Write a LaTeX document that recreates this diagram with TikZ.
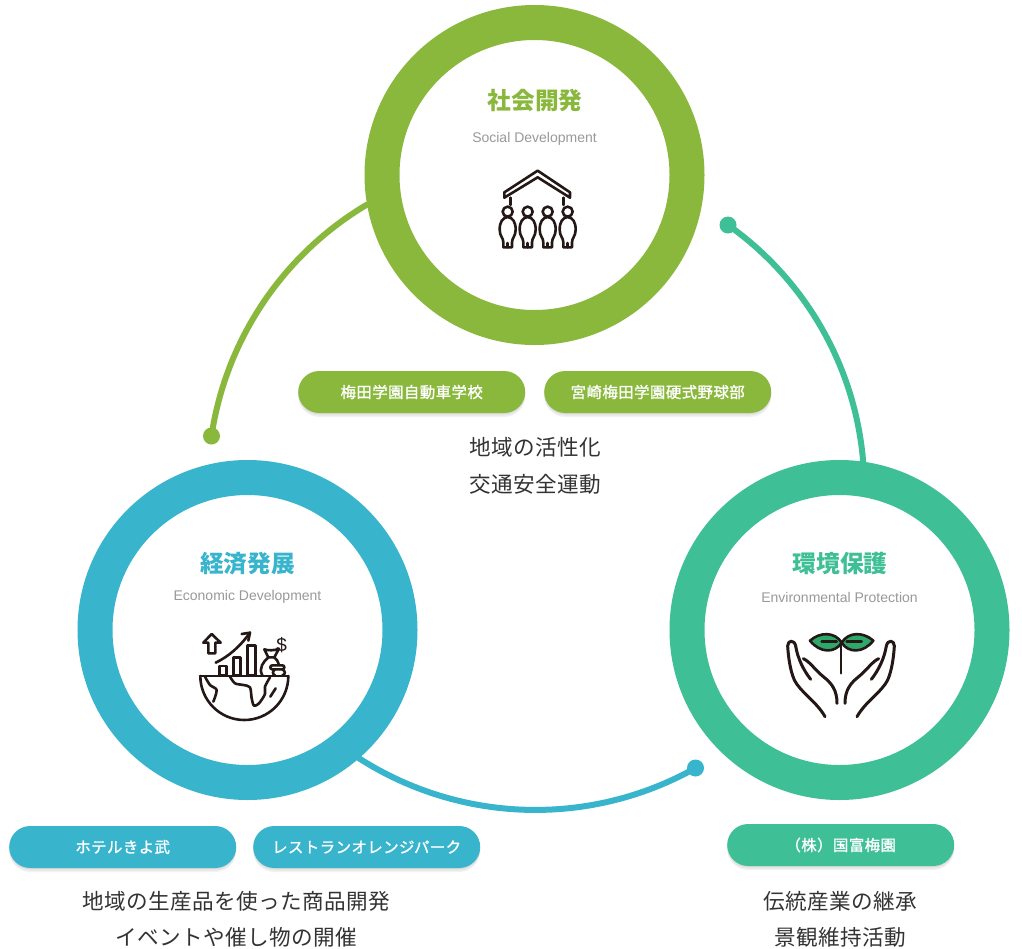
\documentclass[tikz,border=0pt]{standalone}
\usepackage{fontspec}
\setmainfont{Noto Sans CJK JP}
\newfontfamily\bodyfont[LetterSpace=2]{Noto Sans CJK JP}
\newfontfamily\pillfont[LetterSpace=3,FakeBold=1.3]{Noto Sans CJK JP}
\newfontfamily\subfont{Liberation Sans}
\usetikzlibrary{shapes.misc,shadows}
\definecolor{mygreen}{RGB}{138,184,61}
\definecolor{myblue}{RGB}{56,180,204}
\definecolor{myteal}{RGB}{62,191,149}
\definecolor{myleaf}{RGB}{46,168,106}
\definecolor{myink}{RGB}{35,24,21}
\definecolor{mytext}{RGB}{51,51,51}
\definecolor{mysub}{RGB}{153,153,153}
\newcommand{\widthpill}{227pt}
\tikzset{
    ring/.style={draw=#1, circle, line width=35pt, fill=white, minimum size=305pt, inner sep=0pt},
    softshadow/.style={general shadow={shadow xshift=0pt, shadow yshift=#1, opacity=.05, fill=black}},
    pill/.style={anchor=west, rounded rectangle, fill=#1, text=white, minimum width=\widthpill, minimum height=42pt, inner sep=0pt,
        font=\pillfont\fontsize{15.4}{15.4}\selectfont,
        softshadow=-1pt, softshadow=-2.5pt, softshadow=-4pt},
    dot/.style={circle, fill=#1, minimum size=17pt, inner sep=0pt},
    link/.style={draw=#1, line width=6pt, line cap=round},
    heading/.style={text=#1, font=\bfseries\fontsize{23.7}{24}\selectfont, inner sep=0pt},
    subhead/.style={text=mysub, font=\subfont\fontsize{14}{14}\selectfont, inner sep=0pt},
    body/.style={text=mytext, align=center, inner sep=0pt, font=\bodyfont\fontsize{21.6}{36.5}\selectfont},
    icon/.style={draw=myink, line width=2.6pt, line cap=round, line join=round},
}
\newcommand{\iconperson}[1]{
    \begin{scope}[shift={(#1,155)}]
        \draw[icon] (0,0) circle (15);
        \draw[icon] (0,16) .. controls (-16,18) and (-24,32) .. (-24,54)
            .. controls (-24,74) and (-13,78) .. (-13,92) -- (-13,107) -- (13,107) -- (13,92)
            .. controls (13,78) and (24,74) .. (24,54)
            .. controls (24,32) and (16,18) .. (0,16);
        \draw[icon] (0,94) -- (0,107);
    \end{scope}
}
\newcommand{\iconhand}{
    \draw[icon, line width=3pt] (150,290) .. controls (125,245) and (75,215) .. (58,180)
        .. controls (45,150) and (40,110) .. (38,78)
        .. controls (38,60) and (58,58) .. (62,78)
        .. controls (68,115) and (85,150) .. (107,178);
    \draw[icon, line width=3pt] (85,116) .. controls (105,125) and (120,150) .. (145,170)
        .. controls (170,190) and (186,210) .. (186,250);
}
\begin{document}
\begin{tikzpicture}[x=1pt, y=-1pt]
    \useasboundingbox (0,0) rectangle (1022,948);

    \node[ring=mygreen] (socialring) at (534.5,175) {};
    \node[ring=myblue] (economyring) at (247.5,630) {};
    \node[ring=myteal] (naturering) at (839.5,630) {};

    \node[dot=mygreen] (greendot) at (211.5,436) {};
    \node[dot=myteal] (tealdot) at (728,225) {};
    \node[dot=myblue] (bluedot) at (695.5,768) {};

    \draw[link=mygreen] (socialring.190) to[bend right=25.5, looseness=.895] (greendot.center);
    \draw[link=myteal] (tealdot.center) to[bend left=25, looseness=.895] (naturering.82);
    \draw[link=myblue] (economyring.-49) to[bend right=31, looseness=.917] (bluedot.center);

    \node[heading=mygreen] (socialtitle) at (535,100.5) {社会開発};
    \node[subhead] (socialsub) at (534.5,138.5) {Social Development};
    \node[heading=myblue] (economytitle) at (247.5,563.5) {経済発展};
    \node[subhead] (economysub) at (247.5,597) {Economic Development};
    \node[heading=myteal] (naturetitle) at (840,563.5) {環境保護};
    \node[subhead] (naturesub) at (839.5,597) {Environmental Protection};

    \path
        (298,392) node[pill=mygreen] (schoolpill) {梅田学園自動車学校}
        to ++(0:246) node[pill=mygreen] (baseballpill) {宮崎梅田学園硬式野球部};
    \path
        (9,847) node[pill=myblue] (hotelpill) {ホテルきよ武}
        to ++(0:244) node[pill=myblue] (restaurantpill) {レストランオレンジパーク};
    \path
        (727,845) node[pill=myteal] (gardenpill) {（株）国富梅園};

    \node[body] (socialbody) at (535,466) {地域の活性化\\交通安全運動};
    \node[body] (economybody) at (236.5,919.5) {地域の生産品を使った商品開発\\イベントや催し物の開催};
    \node[body] (naturebody) at (840,919.5) {伝統産業の継承\\景観維持活動};

    \begin{scope}[shift={(470,160)}, x=.3333pt, y=-.3333pt]
        \draw[icon] (103,113) -- (103,97) -- (203,32) -- (300,97) -- (300,113) -- (203,52) -- cycle;
        \draw[icon] (122,113) -- (122,135) (281,113) -- (281,135);
        \iconperson{113}
        \iconperson{173}
        \iconperson{233}
        \iconperson{293}
    \end{scope}

    \begin{scope}[shift={(185,620)}, x=.3333pt, y=-.3333pt]
        \draw[icon] (45,168) -- (310,168);
        \draw[icon] (46,168) arc[start angle=180, end angle=0, radius=132];
        \draw[icon] (103,165) rectangle (125,138);
        \draw[icon] (145,165) rectangle (166,112);
        \draw[icon] (187,165) rectangle (211,77);
        \draw[icon] (80,42) -- (107,68) -- (91,68) -- (91,100) -- (70,100) -- (70,68) -- (55,68) -- cycle;
        \draw[icon] (92,128) .. controls (130,110) and (165,80) .. (195,38);
        \draw[icon] (170,42) -- (195,38) -- (190,62);
        \draw[icon] (238,88) .. controls (248,92) and (270,92) .. (282,86) -- (268,112) -- (250,112) -- cycle;
        \draw[icon] (250,112) .. controls (235,125) and (220,145) .. (232,166);
        \draw[icon] (268,112) .. controls (275,118) and (280,125) .. (282,135);
        \draw[icon] (262,136) -- (292,136) .. controls (300,136) and (300,148) .. (292,148) -- (262,148) .. controls (254,148) and (254,136) .. (262,136) -- cycle;
        \draw[icon] (270,148) .. controls (262,152) and (262,164) .. (270,166) (292,148) .. controls (302,152) and (302,164) .. (292,166);
        \draw[icon] plot[smooth] coordinates {(135,170) (150,190) (175,195) (195,202) (200,235) (207,257) (222,250) (240,222) (240,200) (255,172)};
        \draw[icon] plot[smooth] coordinates {(60,170) (75,195) (95,210) (85,245)};
        \draw[icon] (272,205) -- (256,230);
        \node[text=myink, inner sep=0pt, font=\subfont\fontsize{19}{19}\selectfont] (dollar) at (290,75) {\$};
    \end{scope}

    \begin{scope}[shift={(775,620)}, x=.3333pt, y=-.3333pt]
        \draw[icon, fill=myleaf] (200,68) .. controls (180,35) and (135,35) .. (105,62)
            .. controls (135,100) and (180,100) .. (200,68)
            .. controls (220,35) and (265,35) .. (295,62)
            .. controls (265,100) and (220,100) .. (200,68) -- cycle;
        \draw[icon] (140,65) -- (185,65) (215,65) -- (260,65);
        \draw[icon] (198,70) -- (198,160);
        \iconhand
        \begin{scope}[xshift=132pt, xscale=-1]
            \iconhand
        \end{scope}
    \end{scope}
\end{tikzpicture}
\end{document}
